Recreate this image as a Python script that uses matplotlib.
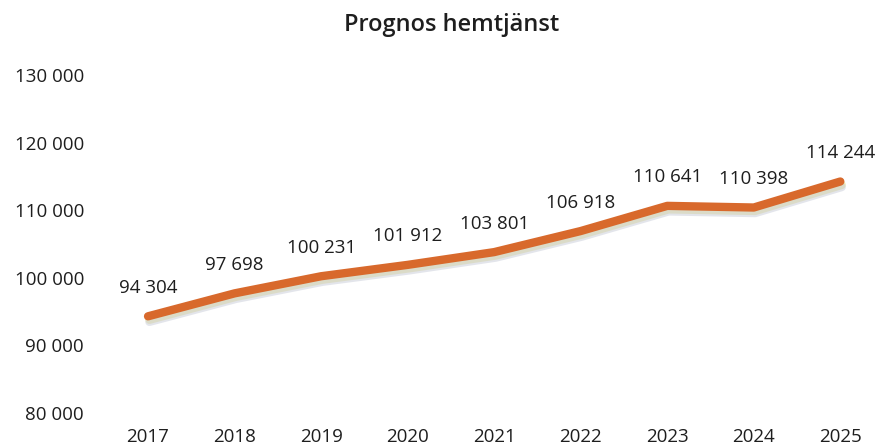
import matplotlib
matplotlib.use('Agg')
import matplotlib.pyplot as plt
import matplotlib.patheffects as pe

years = ['2017', '2018', '2019', '2020', '2021', '2022', '2023', '2024', '2025']
values = [94304, 97698, 100231, 101912, 103801, 106918, 110641, 110398, 114244]
yticks = [80000, 90000, 100000, 110000, 120000, 130000]


def fmt(v):
    # swedish style thousands separator
    return f'{v:,}'.replace(',', ' ')


plt.rcParams['font.family'] = ['Open Sans', 'DejaVu Sans']

fig = plt.figure(figsize=(8.76, 4.48), dpi=100)
ax = fig.add_axes([120 / 876, 35 / 448, 748 / 876, 338 / 448])

x = list(range(len(years)))

# line with a faint yellowish shadow, like the scanned original
ax.plot(x, values, color='#D8692C', linewidth=6, solid_capstyle='round',
        path_effects=[pe.SimpleLineShadow(offset=(1, -2.5), shadow_color='#E6E08A', alpha=0.6),
                      pe.SimpleLineShadow(offset=(1, -4), shadow_color='#C8CCD8', alpha=0.5),
                      pe.Normal()])

for xi, v in zip(x, values):
    ax.annotate(fmt(v), (xi, v), xytext=(0, 14), textcoords='offset points',
                ha='center', va='bottom', fontsize=13.5, color='#1e1e1e')

ax.set_xlim(-0.324, 8.32)
ax.set_ylim(80000, 130000)
ax.set_yticks(yticks)
ax.set_yticklabels([fmt(t) for t in yticks], fontsize=13.5, color='#1e1e1e')
ax.set_xticks(x)
ax.set_xticklabels(years, fontsize=13.5, color='#1e1e1e')
ax.tick_params(axis='both', length=0)
ax.tick_params(axis='x', pad=11)
ax.tick_params(axis='y', pad=26)
for s in ax.spines.values():
    s.set_visible(False)

fig.text(452 / 876, 1 - 25 / 448, 'Prognos hemtjänst', ha='center', va='center',
         fontsize=17, fontweight='semibold', color='#1e1e1e')

fig.savefig('out.png', dpi=100)
